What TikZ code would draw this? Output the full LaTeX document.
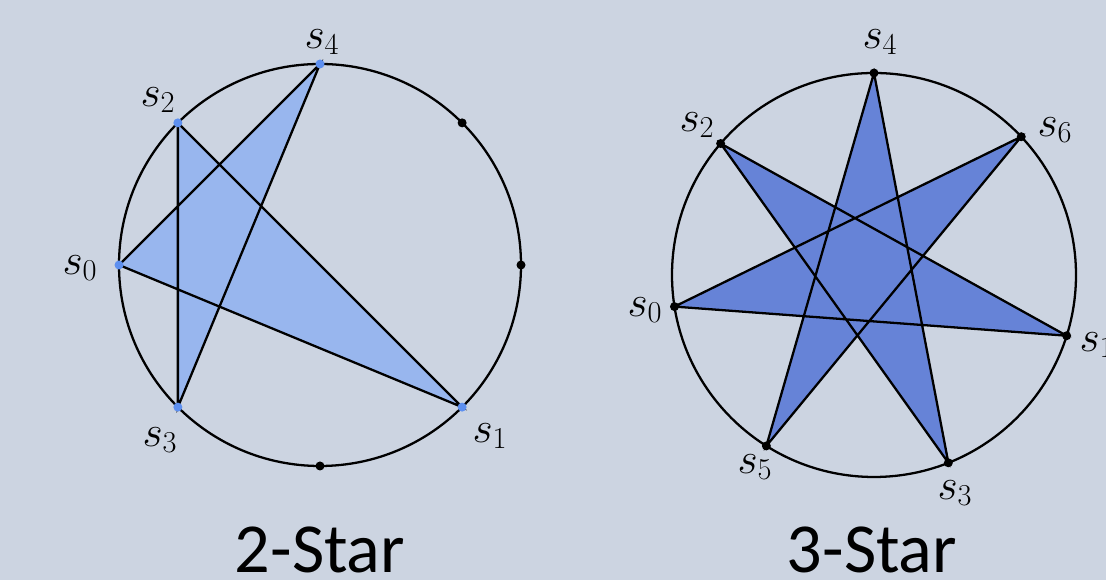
\documentclass[tikz,border=0pt]{standalone}
\usepackage{fontspec}
\newfontfamily\titlefont{Carlito}
\usetikzlibrary{calc}
\definecolor{bgc}{RGB}{204,212,225}
\definecolor{lfill}{RGB}{152,182,238}
\definecolor{ldot}{RGB}{94,144,240}
\definecolor{rfill}{RGB}{102,131,215}

\begin{document}
\begin{tikzpicture}[x=0.02cm,y=0.02cm,line width=1.3pt,
  lbl/.style={font=\fontsize{26}{30}\selectfont},
  ttl/.style={font=\titlefont\fontsize{40}{44}\selectfont,anchor=base}]
  \useasboundingbox[fill=bgc] (0,0) rectangle (1106,580);
  % 2-Star: eight places on the circle, five of them used
  \coordinate (LC) at (320,315);
  \foreach \k/\a in {0/180,1/315,2/135,3/225,4/90} \coordinate (L\k) at ($(LC)+(\a:201)$);
  \foreach \k/\a in {5/45,6/0,7/270} \coordinate (L\k) at ($(LC)+(\a:201)$);
  \fill[lfill] (L0)--(L1)--(L2)--(L3)--(L4)--cycle;
  \draw (LC) circle (201);
  \draw (L0)--(L1)--(L2)--(L3)--(L4)--cycle;
  \foreach \k in {0,...,4} \fill[ldot] (L\k) circle (4.5);
  \foreach \k in {5,6,7} \fill (L\k) circle (4.5);
  \node[lbl] (tL0) at (80,312) {$s_0$};
  \node[lbl] (tL1) at (490,144) {$s_1$};
  \node[lbl] (tL2) at (158,480) {$s_2$};
  \node[lbl] (tL3) at (160,140) {$s_3$};
  \node[lbl] (tL4) at (322,538) {$s_4$};
  \node[ttl] (t2) at (320,7) {2-Star};
  % 3-Star: seven places, all used
  \coordinate (RC) at (874,305);
  \foreach \k/\a in {0/189,1/-17.5,2/139.4,3/-68.4,4/90,5/-122.2,6/43.2} \coordinate (R\k) at ($(RC)+(\a:202)$);
  \fill[rfill] (R0)--(R1)--(R2)--(R3)--(R4)--(R5)--(R6)--cycle;
  \draw (RC) circle (202);
  \draw (R0)--(R1)--(R2)--(R3)--(R4)--(R5)--(R6)--cycle;
  \foreach \k in {0,...,6} \fill (R\k) circle (4.5);
  \node[lbl] (tR0) at (645,270) {$s_0$};
  \node[lbl] (tR1) at (1097,235) {$s_1$};
  \node[lbl] (tR2) at (697,455) {$s_2$};
  \node[lbl] (tR3) at (955,87) {$s_3$};
  \node[lbl] (tR4) at (880,538) {$s_4$};
  \node[lbl] (tR5) at (755,113) {$s_5$};
  \node[lbl] (tR6) at (1055,450) {$s_6$};
  \node[ttl] (t3) at (872,7) {3-Star};
\end{tikzpicture}
\end{document}
